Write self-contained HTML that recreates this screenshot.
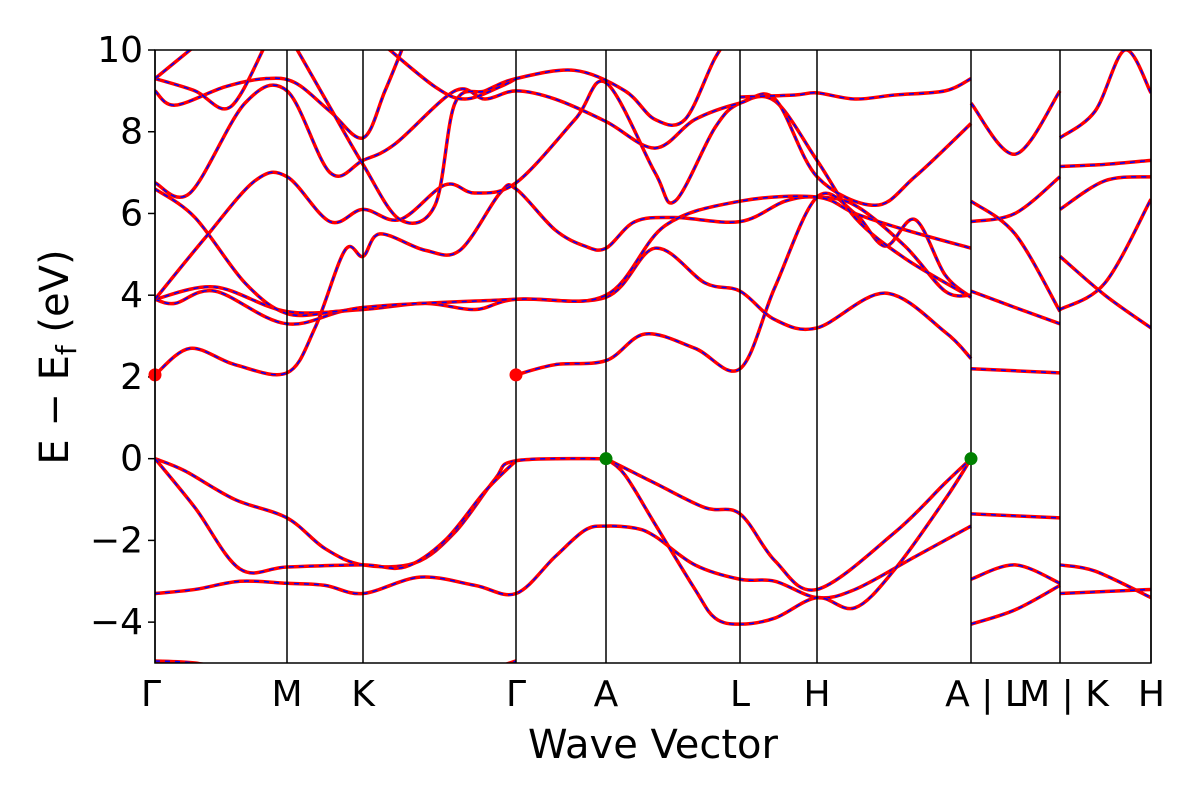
<!DOCTYPE html>
<html><head><meta charset="utf-8"><style>
body{margin:0;background:#fff}
svg{display:block;font-family:"DejaVu Sans","Liberation Sans",sans-serif}
</style></head><body>
<svg id="chart" width="1200" height="800"></svg>
<script>
// k-path distances for high-symmetry points
const kTicks=[0,132,208,361,451,585,662,816,905,996];
const kLabels=["Γ","M","K","Γ","A","L","H","A | L","M | K","H"];
const yTicks=[-4,-2,0,2,4,6,8,10];
const yTickLabels=["−4","−2","0","2","4","6","8","10"];
// bands: lists of [k, E] samples
const bands=[
// valence
[[0,0],[30,-0.3],[80,-1.0],[132,-1.45],[170,-2.2],[208,-2.6],[260,-2.55],[300,-1.8],[340,-0.5],[361,-0.05],[451,0.0]],
[[0,0],[40,-1.2],[85,-2.7],[132,-2.65],[208,-2.6],[250,-2.65],[290,-2.0],[330,-0.8],[361,-0.05]],
[[0,-3.3],[40,-3.2],[85,-3.0],[132,-3.05],[170,-3.1],[208,-3.3],[265,-2.9],[320,-3.1],[361,-3.3],[400,-2.4],[430,-1.75],[451,-1.65],[480,-1.7],[500,-1.9],[540,-2.6],[585,-2.95],[620,-3.0],[662,-3.4],[700,-3.2],[760,-2.4],[816,-1.65]],
[[0,-4.95],[40,-5.0],[80,-5.2]],[[330,-5.2],[361,-4.95]],
[[451,0],[470,-0.4],[500,-1.6],[540,-3.2],[560,-3.9],[585,-4.05],[620,-3.9],[662,-3.4],[700,-3.65],[740,-2.7],[790,-1.0],[816,0]],
[[451,0],[500,-0.6],[550,-1.2],[585,-1.35],[620,-2.5],[662,-3.2],[740,-1.8],[790,-0.6],[816,0]],
[[816,-1.35],[905,-1.45]],
[[816,-2.95],[860,-2.6],[905,-3.05]],
[[816,-4.05],[860,-3.7],[905,-3.1]],
[[905,-2.6],[940,-2.75],[996,-3.4]],
[[905,-3.3],[950,-3.25],[996,-3.2]],
// conduction
[[0,2.05],[35,2.7],[80,2.3],[132,2.1],[160,3.2],[190,5.1],[208,4.95],[225,5.5],[270,5.1],[305,5.1],[345,6.5],[361,6.6],[400,5.6],[430,5.2],[451,5.15],[480,5.8],[520,5.9],[585,5.8],[630,6.3],[662,6.4],[700,6.2],[750,5.2],[790,4.1],[816,4.0]],
[[361,2.05],[400,2.3],[451,2.4],[490,3.05],[540,2.7],[585,2.2],[620,4.2],[662,6.4],[700,6.0],[730,5.2],[760,5.85],[790,4.5],[816,3.95]],
[[0,3.9],[60,4.2],[132,3.6],[208,3.65],[270,3.8],[320,3.65],[361,3.9],[451,3.95],[500,5.15],[550,4.3],[585,4.1],[620,3.4],[662,3.2],[730,4.05],[790,3.1],[816,2.45]],
[[0,3.9],[20,3.8],[60,4.1],[132,3.3],[208,3.7],[361,3.9],[451,4.0],[510,5.7],[585,6.3],[662,6.4],[700,6.0],[750,5.6],[816,5.15]],
[[0,6.6],[40,5.9],[90,4.3],[132,3.55],[180,3.6],[208,3.7]],
[[0,3.9],[50,5.4],[100,6.8],[132,6.9],[175,5.8],[208,6.1],[245,5.85],[290,6.7],[320,6.5],[361,6.75],[420,8.3],[451,9.2],[500,7.0],[520,6.3],[560,8.1],[585,8.7],[620,8.75],[662,7.3],[700,5.9],[750,4.9],[816,3.95]],
[[0,6.75],[35,6.5],[90,8.7],[132,9.0],[175,7.0],[208,7.3],[240,7.7],[300,9.0],[330,8.8],[361,9.0],[400,8.8],[451,8.25],[500,7.6],[540,8.3],[585,8.7],[620,8.8],[662,6.9],[720,6.2],[760,6.9],[816,8.2]],
[[0,9.0],[20,8.65],[70,9.1],[110,9.3],[140,9.2],[175,8.5],[208,7.85],[230,9.0],[250,10.2]],
[[0,9.3],[40,9.0],[75,8.6],[110,10.1]],
[[0,9.3],[40,10.1]],
[[140,10.1],[175,8.6],[208,7.2],[245,5.85],[280,6.2],[300,8.7],[330,9.0],[361,9.3],[420,9.5],[470,9.0],[500,8.3],[530,8.3],[560,9.8],[580,10.5]],
[[230,10.1],[280,9.1],[310,8.8],[345,9.1],[361,9.3]],
[[585,8.85],[640,8.9],[662,8.95],[700,8.8],[740,8.9],[790,9.0],[816,9.3]],
[[816,2.2],[905,2.1]],
[[816,4.1],[860,3.7],[905,3.3]],
[[816,5.8],[860,6.0],[905,6.9]],
[[816,6.3],[860,5.5],[905,3.6]],
[[816,8.7],[860,7.45],[905,9.0]],
[[905,3.65],[950,4.3],[996,6.35]],
[[905,4.95],[950,4.0],[996,3.2]],
[[905,6.1],[950,6.8],[996,6.9]],
[[905,7.15],[950,7.2],[996,7.3]],
[[905,7.85],[940,8.5],[970,10.0],[996,8.95]]
];
const redDots=[[0,2.05],[361,2.05]];
const greenDots=[[451,0],[816,0]];

const svg=document.getElementById('chart');
const NS='http://www.w3.org/2000/svg';
const X0=155,X1=1151,Y0=663,Y1=50,KMAX=996,EMIN=-5,EMAX=10;
const xs=k=>X0+(k/KMAX)*(X1-X0);
const ys=e=>Y0-(e-EMIN)/(EMAX-EMIN)*(Y0-Y1);
function mk(t,a,p){const e=document.createElementNS(NS,t);for(const k in a)e.setAttribute(k,a[k]);(p||svg).appendChild(e);return e;}
const defs=mk('defs',{});const cp=mk('clipPath',{id:'clip'},defs);mk('rect',{x:X0,y:Y1,width:X1-X0,height:Y0-Y1},cp);
const g=mk('g',{'clip-path':'url(#clip)'});

function pathD(pts){
 const P=pts.map(p=>[xs(p[0]),ys(p[1])]);let d='M'+P[0][0]+','+P[0][1];
 for(let i=0;i<P.length-1;i++){const p0=P[i-1]||P[i],p1=P[i],p2=P[i+1],p3=P[i+2]||P[i+1];
  const c1=[p1[0]+(p2[0]-p0[0])/6,p1[1]+(p2[1]-p0[1])/6],c2=[p2[0]-(p3[0]-p1[0])/6,p2[1]-(p3[1]-p1[1])/6];
  d+=`C${c1[0]},${c1[1]} ${c2[0]},${c2[1]} ${p2[0]},${p2[1]}`;}
 return d;}
bands.forEach((b,i)=>{
 const d=pathD(b);
 const r=mk('path',{d:d,fill:'none',stroke:'#ff0000','stroke-width':3.5},g);
 
 
 const bl=mk('path',{d:d,fill:'none',stroke:'#0000ff','stroke-width':1.5,'stroke-dasharray':'5,5'},g);
 
 
});
kTicks.forEach((k,i)=>{
 const l=mk('line',{x1:xs(k),x2:xs(k),y1:Y1,y2:Y0,stroke:'#000','stroke-width':1.5});
 
 
 const t=mk('text',{x:xs(k),y:706,'font-size':36,'text-anchor':i==0?'start':(i==kTicks.length-1?'end':'middle')});
 if(i==0)t.setAttribute('x',xs(k)-14);
 if(i==kTicks.length-1)t.setAttribute('x',xs(k)+14);
 if(i==7)t.setAttribute('x',xs(k)+14);
 if(i==8)t.setAttribute('x',xs(k)+4);
 t.textContent=kLabels[i];
 
 
});
yTicks.forEach((v,i)=>{
 const l=mk('line',{x1:X0-7,x2:X0,y1:ys(v),y2:ys(v),stroke:'#000','stroke-width':1.5});
 
 
 const t=mk('text',{x:X0-12,y:ys(v)+12,'font-size':36,'text-anchor':'end'});
 t.textContent=yTickLabels[i];
 
 
});
redDots.forEach(p=>{const c=mk('circle',{cx:xs(p[0]),cy:ys(p[1]),r:6.5,fill:'#ff0000'});
 });
greenDots.forEach(p=>{const c=mk('circle',{cx:xs(p[0]),cy:ys(p[1]),r:6.5,fill:'#008000'});
 });
const fr=mk('rect',{x:X0,y:Y1,width:X1-X0,height:Y0-Y1,fill:'none',stroke:'#000','stroke-width':1.5});

const xt=mk('text',{x:653,y:758,'font-size':40,'text-anchor':'middle'});xt.textContent='Wave Vector';

const yt=mk('text',{transform:'translate(68,357) rotate(-90)','font-size':40,'text-anchor':'middle'});
yt.innerHTML='E − E<tspan font-size="28" dy="8">f</tspan><tspan dy="-8"> (eV)</tspan>';

</script>
</body></html>
